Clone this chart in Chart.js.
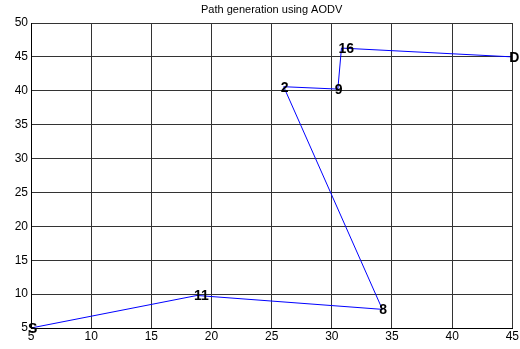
<!DOCTYPE html>
<html>
<head>
<meta charset="utf-8">
<script src="https://cdn.jsdelivr.net/npm/chart.js@4"></script>
<style>
  html, body { margin: 0; padding: 0; background: #fff; }
  #wrap { width: 520px; height: 349px; }
</style>
</head>
<body>
<div id="wrap"><canvas id="chart"></canvas></div>
<script>
const nodeLabels = ['S', '11', '8', '2', '9', '16', 'D'];
const xVals      = [5, 18.8, 34.2, 26.0, 30.5, 30.8, 45];
const yVals      = [5, 9.8, 7.75, 40.6, 40.25, 46.3, 45];
const xTicks     = [5, 10, 15, 20, 25, 30, 35, 40, 45];
const yTicks     = [5, 10, 15, 20, 25, 30, 35, 40, 45, 50];
const TITLE      = 'Path generation using AODV';

/* ── plugins: title + node labels ───────────────────────── */
const nodeText = {
  id: 'nodeText',
  afterDatasetsDraw(chart) {
    const { ctx, scales: { x, y } } = chart;
    ctx.save();
    ctx.font = 'bold 14px Arial, "Liberation Sans", sans-serif';
    ctx.fillStyle = '#000';
    ctx.textAlign = 'left';
    ctx.textBaseline = 'middle';
    nodeLabels.forEach((t, i) => {
      ctx.fillText(t, x.getPixelForValue(xVals[i]) - 3, y.getPixelForValue(yVals[i]) + 1);
    });
    ctx.restore();
  },
  afterDraw(chart) {
    const { ctx, chartArea: a } = chart;
    ctx.save();
    ctx.font = '11px Arial, "Liberation Sans", sans-serif';
    ctx.fillStyle = '#000';
    ctx.textAlign = 'center';
    ctx.textBaseline = 'middle';
    ctx.fillText(TITLE, (a.left + a.right) / 2, 10);
    ctx.restore();
  }
};

const tickFont = { family: 'Arial, "Liberation Sans", sans-serif', size: 12 };

new Chart(document.getElementById('chart'), {
  type: 'scatter',
  data: {
    datasets: [{
      data: xVals.map((v, i) => ({ x: v, y: yVals[i] })),
      showLine: true,
      borderColor: '#0000ff',
      backgroundColor: '#0000ff',
      borderWidth: 1,
      pointRadius: 0,
      tension: 0
    }]
  },
  options: {
    responsive: true,
    maintainAspectRatio: false,
    animation: false,
    layout: { padding: { top: 23, right: 4, left: 0, bottom: 0 } },
    plugins: { legend: { display: false }, tooltip: { enabled: false } },
    scales: {
      x: {
        type: 'linear', min: 5, max: 45,
        afterBuildTicks: s => { s.ticks = xTicks.map(v => ({ value: v })); },
        afterFit: s => { s.height = 21; },
        ticks: { color: '#000', font: tickFont, padding: 1, maxRotation: 0, autoSkip: false },
        grid: { color: '#333', lineWidth: 1, drawTicks: false },
        border: { color: '#000', width: 1 }
      },
      y: {
        type: 'linear', min: 5, max: 50,
        afterBuildTicks: s => { s.ticks = yTicks.map(v => ({ value: v })); },
        afterFit: s => { s.width = 31; },
        ticks: { color: '#000', font: tickFont, padding: 3, autoSkip: false },
        grid: { color: '#333', lineWidth: 1, drawTicks: false },
        border: { color: '#000', width: 1, dash: [] }
      }
    }
  },
  plugins: [nodeText]
});
</script>
</body>
</html>
